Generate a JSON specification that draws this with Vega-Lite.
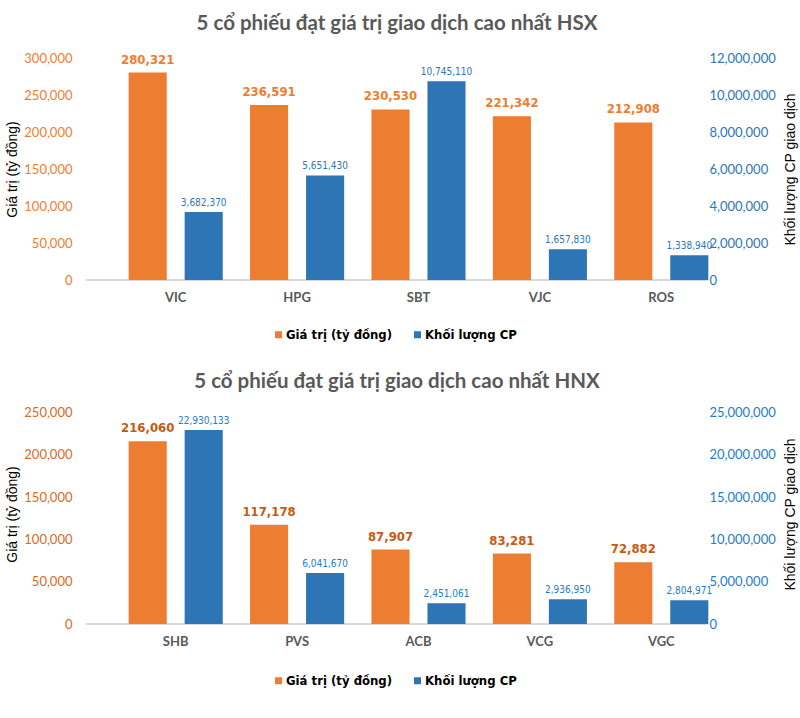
{
  "$schema": "https://vega.github.io/schema/vega-lite/v6.json",
  "padding": {"left": 5, "top": 13, "right": 2, "bottom": 0},
  "background": "white",
  "datasets": {
    "hsx": [
      {"ma": "VIC", "series": "Giá trị (tỷ đồng)", "value": 280321},
      {"ma": "VIC", "series": "Khối lượng CP", "value": 3682370},
      {"ma": "HPG", "series": "Giá trị (tỷ đồng)", "value": 236591},
      {"ma": "HPG", "series": "Khối lượng CP", "value": 5651430},
      {"ma": "SBT", "series": "Giá trị (tỷ đồng)", "value": 230530},
      {"ma": "SBT", "series": "Khối lượng CP", "value": 10745110},
      {"ma": "VJC", "series": "Giá trị (tỷ đồng)", "value": 221342},
      {"ma": "VJC", "series": "Khối lượng CP", "value": 1657830},
      {"ma": "ROS", "series": "Giá trị (tỷ đồng)", "value": 212908},
      {"ma": "ROS", "series": "Khối lượng CP", "value": 1338940}
    ],
    "hnx": [
      {"ma": "SHB", "series": "Giá trị (tỷ đồng)", "value": 216060},
      {"ma": "SHB", "series": "Khối lượng CP", "value": 22930133},
      {"ma": "PVS", "series": "Giá trị (tỷ đồng)", "value": 117178},
      {"ma": "PVS", "series": "Khối lượng CP", "value": 6041670},
      {"ma": "ACB", "series": "Giá trị (tỷ đồng)", "value": 87907},
      {"ma": "ACB", "series": "Khối lượng CP", "value": 2451061},
      {"ma": "VCG", "series": "Giá trị (tỷ đồng)", "value": 83281},
      {"ma": "VCG", "series": "Khối lượng CP", "value": 2936950},
      {"ma": "VGC", "series": "Giá trị (tỷ đồng)", "value": 72882},
      {"ma": "VGC", "series": "Khối lượng CP", "value": 2804971}
    ]
  },
  "config": {
    "view": {"stroke": null},
    "font": "Lato",
    "concat": {"spacing": 29},
    "axis": {"grid": false, "ticks": false, "domain": false, "labelOverlap": false, "tickCount": 12},
    "legend": {
      "orient": "none", "legendX": 186, "legendY": 270, "direction": "horizontal", "title": null, "padding": 0,
      "labelFont": "Liberation Sans Narrow, DejaVu Sans Condensed, sans-serif", "labelFontWeight": "bold",
      "labelFontSize": 13, "labelColor": "#000000", "symbolType": "square",
      "symbolSize": 49, "symbolStrokeWidth": 0, "columnPadding": 18, "labelOffset": 1
    },
    "title": {"fontSize": 20.5, "fontWeight": "bold", "color": "#595959", "font": "Lato", "anchor": "middle"}
  },
  "resolve": {"scale": {"color": "independent", "x": "independent", "y": "independent", "xOffset": "independent"}, "legend": {"color": "independent"}},
  "vconcat": [
    {
      "width": 622, "height": 222,
      "title": {"text": "5 cổ phiếu đạt giá trị giao dịch cao nhất HSX", "offset": 18},
      "data": {"name": "hsx"},
      "layer": [
        {
          "layer": [
            {"mark": {"type": "rule", "color": "#D9D9D9", "strokeWidth": 1}, "encoding": {"y": {"datum": 0, "type": "quantitative"}}},
            {
              "transform": [{"filter": "datum.series === 'Giá trị (tỷ đồng)'"}],
              "mark": {"type": "bar"},
              "encoding": {
                "x": {"field": "ma", "type": "nominal", "sort": null, "scale": {"range": [29, 636], "paddingInner": 0, "paddingOuter": 0}, "axis": {"title": null, "labelAngle": 0, "labelPadding": 11, "labelFont": "Lato", "labelFontSize": 13, "labelFontWeight": "bold", "labelColor": "#595959"}},
                "xOffset": {"field": "series", "type": "nominal", "scale": {"domain": ["Giá trị (tỷ đồng)", "Khối lượng CP"], "paddingInner": 0.32, "paddingOuter": 0.244}},
                "color": {"field": "series", "type": "nominal", "scale": {"domain": ["Giá trị (tỷ đồng)", "Khối lượng CP"], "range": ["#ED7D31", "#2E75B6"]}},
                "y": {"field": "value", "type": "quantitative", "scale": {"domain": [0, 300000]}, "axis": {"orient": "left", "values": [0, 50000, 100000, 150000, 200000, 250000, 300000], "tickCount": 12, "format": ",d", "labelColor": "#ED7D31", "labelFont": "Lato", "labelFontSize": 13, "labelPadding": 14, "title": "Giá trị (tỷ đồng)", "titleFont": "Liberation Sans", "titleFontSize": 14, "titleFontWeight": "normal", "titleColor": "#000000", "titlePadding": 4}}
              }
            },
            {
              "transform": [{"filter": "datum.series === 'Giá trị (tỷ đồng)'"}],
              "mark": {"type": "text", "baseline": "bottom", "dy": -6, "font": "Liberation Sans Narrow, DejaVu Sans Condensed, sans-serif", "fontSize": 13, "fontWeight": "bold", "color": "#ED7D31"},
              "encoding": {
                "x": {"field": "ma", "type": "nominal", "sort": null},
                "xOffset": {"field": "series", "type": "nominal"},
                "y": {"field": "value", "type": "quantitative"},
                "text": {"field": "value", "type": "quantitative", "format": ",d"}
              }
            }
          ]
        },
        {
          "layer": [
            {
              "transform": [{"filter": "datum.series === 'Khối lượng CP'"}],
              "mark": {"type": "bar"},
              "encoding": {
                "x": {"field": "ma", "type": "nominal", "sort": null},
                "xOffset": {"field": "series", "type": "nominal"},
                "color": {"field": "series", "type": "nominal"},
                "y": {"field": "value", "type": "quantitative", "scale": {"domain": [0, 12000000]}, "axis": {"orient": "right", "values": [0, 2000000, 4000000, 6000000, 8000000, 10000000, 12000000], "tickCount": 12, "format": ",d", "labelColor": "#2E75B6", "labelFont": "Lato", "labelFontSize": 13, "labelPadding": 1, "title": "Khối lượng CP giao dịch", "titleFont": "Liberation Sans", "titleFontSize": 14, "titleFontWeight": "normal", "titleColor": "#000000", "titlePadding": 8, "titleAngle": 270, "titleBaseline": "top"}}
              }
            },
            {
              "transform": [{"filter": "datum.series === 'Khối lượng CP'"}],
              "mark": {"type": "text", "baseline": "bottom", "dy": -4, "font": "Liberation Sans Narrow, DejaVu Sans Condensed, sans-serif", "fontSize": 10, "color": "#2E75B6"},
              "encoding": {
                "x": {"field": "ma", "type": "nominal", "sort": null},
                "xOffset": {"field": "series", "type": "nominal"},
                "y": {"field": "value", "type": "quantitative"},
                "text": {"field": "value", "type": "quantitative", "format": ",d"}
              }
            }
          ]
        }
      ],
      "resolve": {"scale": {"y": "independent"}}
    },
    {
      "width": 622, "height": 220,
      "title": {"text": "5 cổ phiếu đạt giá trị giao dịch cao nhất HNX", "offset": 12},
      "data": {"name": "hnx"},
      "layer": [
        {
          "layer": [
            {"mark": {"type": "rule", "color": "#D9D9D9", "strokeWidth": 1}, "encoding": {"y": {"datum": 0, "type": "quantitative"}}},
            {
              "transform": [{"filter": "datum.series === 'Giá trị (tỷ đồng)'"}],
              "mark": {"type": "bar"},
              "encoding": {
                "x": {"field": "ma", "type": "nominal", "sort": null, "scale": {"range": [29, 636], "paddingInner": 0, "paddingOuter": 0}, "axis": {"title": null, "labelAngle": 0, "labelPadding": 11, "labelFont": "Lato", "labelFontSize": 13, "labelFontWeight": "bold", "labelColor": "#595959"}},
                "xOffset": {"field": "series", "type": "nominal", "scale": {"domain": ["Giá trị (tỷ đồng)", "Khối lượng CP"], "paddingInner": 0.32, "paddingOuter": 0.244}},
                "color": {"field": "series", "type": "nominal", "scale": {"domain": ["Giá trị (tỷ đồng)", "Khối lượng CP"], "range": ["#ED7D31", "#2E75B6"]}},
                "y": {"field": "value", "type": "quantitative", "scale": {"domain": [0, 250000]}, "axis": {"orient": "left", "values": [0, 50000, 100000, 150000, 200000, 250000], "tickCount": 12, "format": ",d", "labelColor": "#D86A24", "labelFont": "Lato", "labelFontSize": 13, "labelPadding": 14, "title": "Giá trị (tỷ đồng)", "titleFont": "Liberation Sans", "titleFontSize": 14, "titleFontWeight": "normal", "titleColor": "#000000", "titlePadding": 4}}
              }
            },
            {
              "transform": [{"filter": "datum.series === 'Giá trị (tỷ đồng)'"}],
              "mark": {"type": "text", "baseline": "bottom", "dy": -6, "font": "Liberation Sans Narrow, DejaVu Sans Condensed, sans-serif", "fontSize": 13, "fontWeight": "bold", "color": "#C55A11"},
              "encoding": {
                "x": {"field": "ma", "type": "nominal", "sort": null},
                "xOffset": {"field": "series", "type": "nominal"},
                "y": {"field": "value", "type": "quantitative"},
                "text": {"field": "value", "type": "quantitative", "format": ",d"}
              }
            }
          ]
        },
        {
          "layer": [
            {
              "transform": [{"filter": "datum.series === 'Khối lượng CP'"}],
              "mark": {"type": "bar"},
              "encoding": {
                "x": {"field": "ma", "type": "nominal", "sort": null},
                "xOffset": {"field": "series", "type": "nominal"},
                "color": {"field": "series", "type": "nominal"},
                "y": {"field": "value", "type": "quantitative", "scale": {"domain": [0, 25000000]}, "axis": {"orient": "right", "values": [0, 5000000, 10000000, 15000000, 20000000, 25000000], "tickCount": 12, "format": ",d", "labelColor": "#1F7CC8", "labelFont": "Lato", "labelFontSize": 13, "labelPadding": 1, "title": "Khối lượng CP giao dịch", "titleFont": "Liberation Sans", "titleFontSize": 14, "titleFontWeight": "normal", "titleColor": "#000000", "titlePadding": 8, "titleAngle": 270, "titleBaseline": "top"}}
              }
            },
            {
              "transform": [{"filter": "datum.series === 'Khối lượng CP'"}],
              "mark": {"type": "text", "baseline": "bottom", "dy": -4, "font": "Liberation Sans Narrow, DejaVu Sans Condensed, sans-serif", "fontSize": 10, "color": "#1F7CC8"},
              "encoding": {
                "x": {"field": "ma", "type": "nominal", "sort": null},
                "xOffset": {"field": "series", "type": "nominal"},
                "y": {"field": "value", "type": "quantitative"},
                "text": {"field": "value", "type": "quantitative", "format": ",d"}
              }
            }
          ]
        }
      ],
      "resolve": {"scale": {"y": "independent"}}
    }
  ]
}
